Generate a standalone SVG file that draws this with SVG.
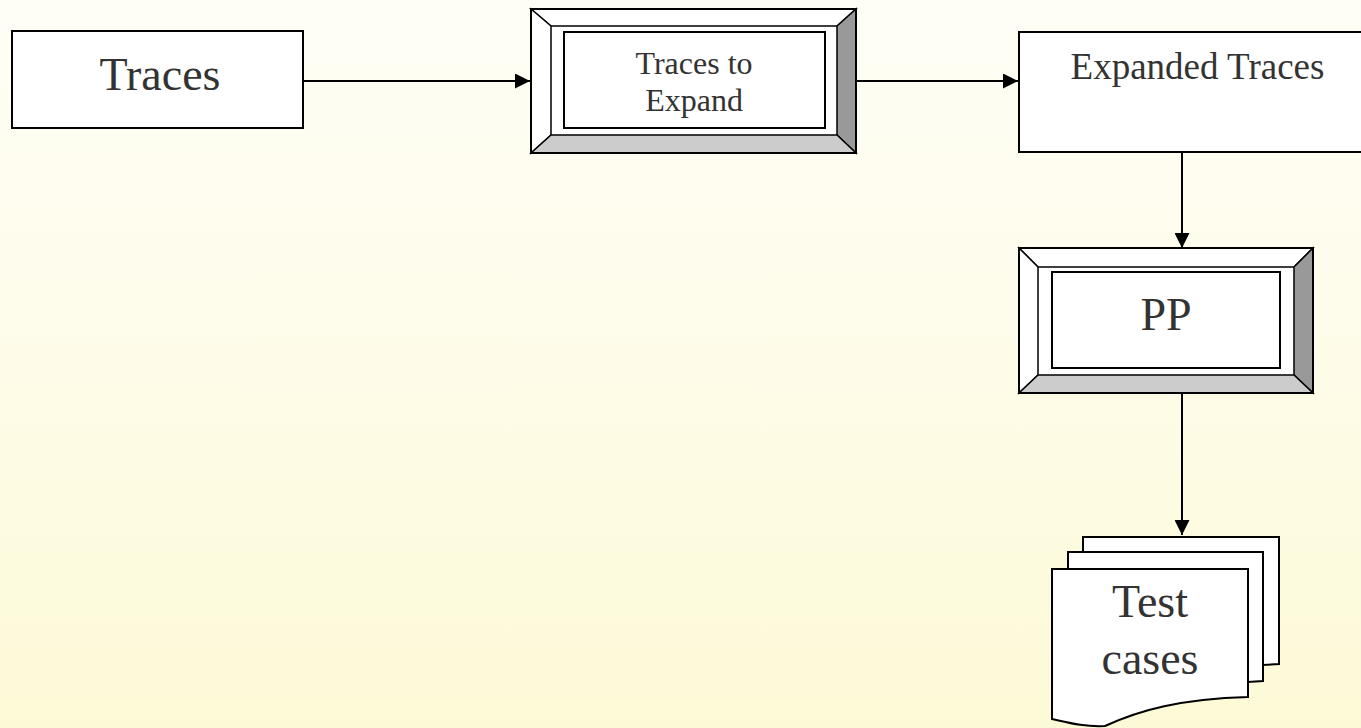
<svg xmlns="http://www.w3.org/2000/svg" width="1361" height="728" viewBox="0 0 1361 728">
<defs>
<linearGradient id="bg" x1="0" y1="0" x2="0" y2="1">
<stop offset="0" stop-color="#FEFEF6"/>
<stop offset="0.45" stop-color="#FEFCEA"/>
<stop offset="1" stop-color="#FCFAD6"/>
</linearGradient>
<marker id="arr" markerWidth="15" markerHeight="15" refX="15" refY="7.5" orient="auto" markerUnits="userSpaceOnUse">
<path d="M0,0 L15,7.5 L0,15 Z" fill="#000"/>
</marker>
<style>
.box{fill:#fff;stroke:#000;stroke-width:2}
.edge{fill:none;stroke:#000;stroke-width:2}
.t{font-family:"Liberation Serif","Times New Roman",serif;fill:#333;text-anchor:middle}
.lt{fill:#fff;stroke:#000;stroke-width:1.5;stroke-linejoin:miter}
.dk{fill:#999;stroke:#000;stroke-width:1.5}
.md{fill:#ccc;stroke:#000;stroke-width:1.5}
</style>
</defs>
<rect x="0" y="0" width="1361" height="728" fill="url(#bg)"/>

<g id="connectors">
<line class="edge" x1="303" y1="81" x2="530" y2="81" marker-end="url(#arr)"/>
<line class="edge" x1="857" y1="81" x2="1018" y2="81" marker-end="url(#arr)"/>
<line class="edge" x1="1182" y1="152" x2="1182" y2="248" marker-end="url(#arr)"/>
<line class="edge" x1="1182" y1="393" x2="1182" y2="535" marker-end="url(#arr)"/>
</g>

<g id="traces">
<rect class="box" x="12" y="31" width="291" height="97"/>
<text class="t" x="160" y="90" font-size="46">Traces</text>
</g>

<g id="traces-to-expand">
<rect x="531" y="9" width="325" height="144" fill="#fff"/>
<polygon class="lt" points="531,9 856,9 837,26 551,26"/>
<polygon class="lt" points="531,9 551,26 551,135 531,153"/>
<polygon class="dk" points="856,9 856,153 837,135 837,26"/>
<polygon class="md" points="531,153 551,135 837,135 856,153"/>
<rect x="531" y="9" width="325" height="144" fill="none" stroke="#000" stroke-width="2"/>
<rect class="box" x="564" y="32" width="261" height="96"/>
<text class="t" x="694" y="74" font-size="32">Traces to</text>
<text class="t" x="694" y="111" font-size="32">Expand</text>
</g>

<g id="expanded-traces">
<rect class="box" x="1019" y="32" width="360" height="120"/>
<text class="t" x="1197.5" y="79" font-size="37">Expanded Traces</text>
</g>

<g id="pp">
<rect x="1019" y="248" width="294" height="145" fill="#fff"/>
<polygon class="lt" points="1019,248 1313,248 1294,267 1038,267"/>
<polygon class="lt" points="1019,248 1038,267 1038,375 1019,393"/>
<polygon class="dk" points="1313,248 1313,393 1294,375 1294,267"/>
<polygon class="md" points="1019,393 1038,375 1294,375 1313,393"/>
<rect x="1019" y="248" width="294" height="145" fill="none" stroke="#000" stroke-width="2"/>
<rect class="box" x="1052" y="272" width="228" height="96"/>
<text class="t" x="1166" y="330" font-size="46">PP</text>
</g>

<g id="test-cases">
<path class="box" d="M1083,537 H1279 V664 L1263,665 V650 H1083 Z"/>
<path class="box" d="M1068,552 H1263 V681 L1248,682 V660 H1068 Z"/>
<path class="box" d="M1052,569 H1248 V697 C1180,699 1140,710 1105,726 C1085,727 1070,723 1052,719 Z"/>
<text class="t" x="1150" y="617" font-size="46">Test</text>
<text class="t" x="1150" y="674" font-size="46">cases</text>
</g>
</svg>
